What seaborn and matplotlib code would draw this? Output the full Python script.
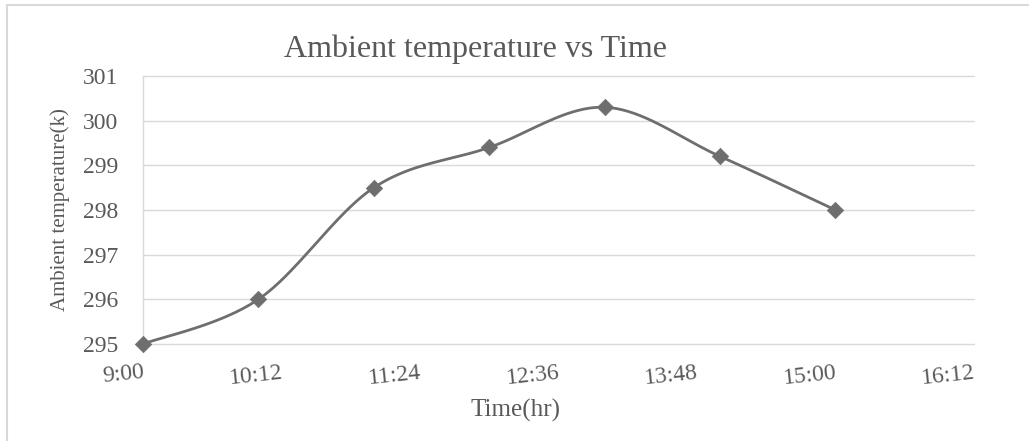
import numpy as np
import pandas as pd
import matplotlib
matplotlib.use("Agg")
import matplotlib.pyplot as plt
from matplotlib.patches import Rectangle
import seaborn as sns

# ---- data ----
times = ["9:00", "10:00", "11:00", "12:00", "13:00", "14:00", "15:00"]
temps = [295.0, 296.0, 298.5, 299.4, 300.3, 299.2, 298.0]
x_tick_labels = ["9:00", "10:12", "11:24", "12:36", "13:48", "15:00", "16:12"]
y_ticks = [295, 296, 297, 298, 299, 300, 301]

title = "Ambient temperature vs Time"
xlabel = "Time(hr)"
ylabel = "Ambient temperature(k)"


def to_min(s):
    h, m = s.split(":")
    return int(h) * 60 + int(m)


df = pd.DataFrame({"minutes": [to_min(t) for t in times], "temp": temps})
xt = [to_min(t) for t in x_tick_labels]

# Excel-style smoothed curve (Catmull-Rom / cubic Bezier through the points)
P = df[["minutes", "temp"]].to_numpy(dtype=float)
curve = []
tt = np.linspace(0, 1, 40)
for i in range(len(P) - 1):
    p0 = P[i - 1] if i > 0 else P[i]
    p1, p2 = P[i], P[i + 1]
    p3 = P[i + 2] if i + 2 < len(P) else P[i + 1]
    c1 = p1 + (p2 - p0) / 6.0
    c2 = p2 - (p3 - p1) / 6.0
    seg = ((1 - tt)[:, None] ** 3 * p1 + 3 * ((1 - tt) ** 2 * tt)[:, None] * c1
           + 3 * ((1 - tt) * tt ** 2)[:, None] * c2 + (tt ** 3)[:, None] * p2)
    curve.append(seg if i == 0 else seg[1:])
curve = np.vstack(curve)
cdf = pd.DataFrame({"minutes": curve[:, 0], "temp": curve[:, 1]})

# ---- style ----
sns.set_style("white")
plt.rcParams["font.family"] = ["Liberation Serif", "DejaVu Serif"]

W, H = 1029, 441
fig = plt.figure(figsize=(W / 100, H / 100), dpi=100)
ax = fig.add_axes([143 / W, 1 - 344 / H, (974 - 143) / W, (344 - 76) / H])

line_col = "#6e6e6e"
text_col = "#595959"
grid_col = "#d9d9d9"

sns.lineplot(data=cdf, x="minutes", y="temp", ax=ax, sort=False, estimator=None,
             color=line_col, linewidth=2.0, clip_on=False, zorder=3)
sns.scatterplot(data=df, x="minutes", y="temp", ax=ax, marker="D", s=70,
                color=line_col, edgecolor=line_col, linewidth=0.5,
                clip_on=False, zorder=4)

ax.set_xlim(xt[0], xt[-1])
ax.set_ylim(y_ticks[0], y_ticks[-1])
ax.set_xticks(xt)
ax.set_xticklabels(x_tick_labels)
ax.set_yticks(y_ticks)

ax.grid(axis="y", color=grid_col, linewidth=1.0)
ax.grid(axis="x", visible=False)
for gl in ax.get_ygridlines():
    gl.set_clip_on(False)
for side in ["top", "right", "bottom"]:
    ax.spines[side].set_visible(False)
ax.spines["left"].set_color(grid_col)
ax.spines["left"].set_linewidth(1.0)

ax.tick_params(axis="y", length=0, pad=18, labelsize=17, labelcolor=text_col)
ax.tick_params(axis="x", length=0, pad=13, labelsize=17, labelcolor=text_col)
for lab in ax.get_xticklabels():
    lab.set_rotation(6)
    lab.set_ha("right")
    lab.set_va("top")
    lab.set_rotation_mode("anchor")

ax.set_xlabel(xlabel, fontsize=18, color=text_col)
ax.xaxis.set_label_coords(0.4477, -0.205)
ax.set_ylabel(ylabel, fontsize=15, color=text_col, labelpad=9)

fig.text(476 / W, 1 - 57 / H, title, ha="center", va="baseline",
         fontsize=23, color=text_col)

fig.add_artist(Rectangle((7 / W, -0.1), 1.2, 1 - 5 / H + 0.1,
                         transform=fig.transFigure, fill=False,
                         edgecolor=grid_col, linewidth=1.5))

fig.savefig("out.png", dpi=100, facecolor="white")
